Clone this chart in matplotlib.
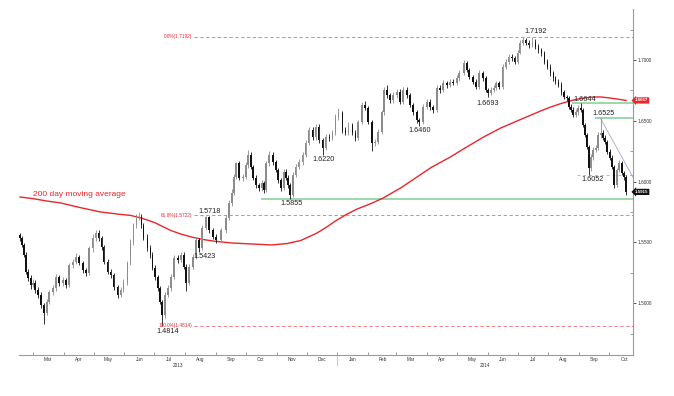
import matplotlib
matplotlib.use('Agg')
import matplotlib.pyplot as plt
import matplotlib.dates as mdates
import matplotlib.ticker as mticker
import matplotlib.transforms as mtransforms
import pandas as pd

plt.rcParams['font.family'] = ['Liberation Sans', 'DejaVu Sans']

start = pd.Timestamp('2013-03-01')

# candle days (offset from 1 Mar 2013), closes, highs, lows
day = [-13, -11, -9, -7, -5, -2, 0, 2, 5, 8,
       11, 14, 16, 20, 23, 26, 30, 33, 36, 40,
       43, 46, 50, 53, 56, 60, 63, 66, 69, 71,
       75, 78, 81, 85, 88, 91, 95, 98, 101, 104,
       107, 109, 111, 115, 118, 120, 123, 126, 128, 130,
       133, 136, 139, 142, 146, 149, 152, 154, 157, 161,
       164, 167, 170, 174, 177, 181, 184, 189, 194, 197,
       200, 202, 204, 207, 211, 214, 216, 219, 221, 224,
       227, 230, 232, 234, 237, 241, 244, 246, 249, 252,
       254, 256, 258, 261, 264, 267, 271, 274, 277, 281,
       284, 287, 291, 294, 298, 301, 304, 307, 311, 314,
       317, 321, 324, 327, 331, 334, 337, 341, 344, 347,
       351, 353, 356, 359, 362, 366, 369, 372, 376, 379,
       382, 386, 388, 392, 396, 399, 402, 406, 409, 412,
       416, 419, 422, 426, 428, 433, 436, 438, 442, 445,
       448, 452, 455, 457, 460, 463, 465, 468, 472, 475,
       478, 481, 484, 487, 489, 492, 495, 498, 502, 505,
       508, 511, 514, 517, 520, 523, 525, 528, 531, 534,
       537, 539, 541, 543, 546, 548, 551, 553, 555, 557,
       559, 561, 563, 566, 568, 571, 573, 575, 577, 580,
       582, 584, 587, 589, 592, 594, 596]

first_open = 1.5560
close = [1.5536, 1.5480, 1.5400, 1.5260, 1.5210, 1.5150, 1.5170, 1.5110, 1.5070, 1.4985,
         1.4920, 1.5010, 1.5090, 1.5125, 1.5215, 1.5166, 1.5190, 1.5150, 1.5310, 1.5340,
         1.5380, 1.5330, 1.5270, 1.5250, 1.5450, 1.5540, 1.5580, 1.5536, 1.5460, 1.5340,
         1.5260, 1.5230, 1.5130, 1.5070, 1.5110, 1.5170, 1.5330, 1.5500, 1.5640, 1.5700,
         1.5710, 1.5640, 1.5540, 1.5450, 1.5400, 1.5290, 1.5215, 1.5125, 1.5010, 1.4900,
         1.5070, 1.5125, 1.5215, 1.5370, 1.5355, 1.5400, 1.5300, 1.5170, 1.5300, 1.5380,
         1.5520, 1.5450, 1.5620, 1.5710, 1.5600, 1.5545, 1.5520, 1.5600, 1.5700, 1.5820,
         1.5910, 1.6040, 1.6150, 1.6030, 1.6040, 1.6136, 1.6220, 1.6120, 1.6030, 1.5970,
         1.5947, 1.5990, 1.5930, 1.6150, 1.6220, 1.6160, 1.6095, 1.6010, 1.5947, 1.6080,
         1.6030, 1.5970, 1.5890, 1.6054, 1.6120, 1.6160, 1.6220, 1.6317, 1.6424, 1.6367,
         1.6450, 1.6340, 1.6280, 1.6367, 1.6360, 1.6400, 1.6530, 1.6564, 1.6424, 1.6400,
         1.6465, 1.6400, 1.6360, 1.6490, 1.6630, 1.6605, 1.6490, 1.6317, 1.6326, 1.6410,
         1.6570, 1.6753, 1.6710, 1.6670, 1.6710, 1.6737, 1.6655, 1.6753, 1.6710, 1.6630,
         1.6570, 1.6507, 1.6490, 1.6613, 1.6655, 1.6613, 1.6589, 1.6770, 1.6753, 1.6810,
         1.6794, 1.6820, 1.6810, 1.6850, 1.6893, 1.6975, 1.6918, 1.6860, 1.6820, 1.6780,
         1.6893, 1.6850, 1.6753, 1.6729, 1.6753, 1.6770, 1.6810, 1.6780, 1.6944, 1.6984,
         1.7025, 1.7016, 1.6984, 1.7060, 1.7140, 1.7165, 1.7140, 1.7123, 1.7150, 1.7110,
         1.7080, 1.7057, 1.6984, 1.6944, 1.6890, 1.6850, 1.6820, 1.6794, 1.6737, 1.6696,
         1.6688, 1.6613, 1.6589, 1.6548, 1.6570, 1.6605, 1.6589, 1.6465, 1.6383, 1.6285,
         1.6112, 1.6200, 1.6260, 1.6276, 1.6383, 1.6400, 1.6360, 1.6326, 1.6243, 1.6194,
         1.6120, 1.5972, 1.6095, 1.6153, 1.6070, 1.6038, 1.5915]

high = [1.5580, 1.5555, 1.5495, 1.5420, 1.5285, 1.5235, 1.5200, 1.5190, 1.5130, 1.5090,
        1.5000, 1.5035, 1.5110, 1.5150, 1.5240, 1.5235, 1.5215, 1.5210, 1.5330, 1.5365,
        1.5410, 1.5400, 1.5350, 1.5290, 1.5470, 1.5565, 1.5605, 1.5600, 1.5555, 1.5480,
        1.5365, 1.5285, 1.5250, 1.5150, 1.5135, 1.5195, 1.5350, 1.5525, 1.5660, 1.5730,
        1.5752, 1.5735, 1.5660, 1.5565, 1.5475, 1.5420, 1.5310, 1.5235, 1.5145, 1.5030,
        1.5090, 1.5150, 1.5240, 1.5395, 1.5395, 1.5425, 1.5420, 1.5320, 1.5325, 1.5405,
        1.5545, 1.5540, 1.5645, 1.5718, 1.5715, 1.5620, 1.5565, 1.5620, 1.5725, 1.5845,
        1.5935, 1.6065, 1.6165, 1.6170, 1.6065, 1.6160, 1.6259, 1.6240, 1.6140, 1.6050,
        1.5990, 1.6010, 1.6005, 1.6170, 1.6250, 1.6240, 1.6180, 1.6115, 1.6030, 1.6100,
        1.6100, 1.6050, 1.5990, 1.6075, 1.6145, 1.6185, 1.6245, 1.6340, 1.6450, 1.6445,
        1.6475, 1.6470, 1.6360, 1.6390, 1.6395, 1.6425, 1.6555, 1.6602, 1.6580, 1.6445,
        1.6490, 1.6485, 1.6420, 1.6510, 1.6655, 1.6665, 1.6625, 1.6510, 1.6350, 1.6435,
        1.6590, 1.6775, 1.6790, 1.6730, 1.6735, 1.6760, 1.6760, 1.6780, 1.6775, 1.6730,
        1.6650, 1.6590, 1.6525, 1.6635, 1.6680, 1.6675, 1.6630, 1.6795, 1.6790, 1.6835,
        1.6830, 1.6845, 1.6840, 1.6875, 1.6915, 1.6996, 1.6990, 1.6935, 1.6880, 1.6840,
        1.6915, 1.6910, 1.6870, 1.6770, 1.6780, 1.6795, 1.6830, 1.6830, 1.6965, 1.7005,
        1.7050, 1.7045, 1.7035, 1.7085, 1.7165, 1.7185, 1.7180, 1.7160, 1.7192, 1.7170,
        1.7130, 1.7100, 1.7075, 1.7005, 1.6965, 1.6910, 1.6870, 1.6840, 1.6815, 1.6755,
        1.6715, 1.6705, 1.6635, 1.6610, 1.6595, 1.6630, 1.6644, 1.6605, 1.6480, 1.6400,
        1.6300, 1.6225, 1.6285, 1.6300, 1.6405, 1.6525, 1.6420, 1.6380, 1.6345, 1.6265,
        1.6215, 1.6135, 1.6115, 1.6180, 1.6170, 1.6090, 1.6055]

low = [1.5515, 1.5460, 1.5380, 1.5240, 1.5185, 1.5120, 1.5130, 1.5085, 1.5045, 1.4960,
       1.4832, 1.4900, 1.4990, 1.5070, 1.5100, 1.5140, 1.5145, 1.5125, 1.5130, 1.5290,
       1.5320, 1.5310, 1.5245, 1.5225, 1.5235, 1.5425, 1.5515, 1.5510, 1.5440, 1.5320,
       1.5240, 1.5205, 1.5110, 1.5045, 1.5050, 1.5090, 1.5150, 1.5310, 1.5480, 1.5615,
       1.5680, 1.5620, 1.5520, 1.5430, 1.5375, 1.5270, 1.5190, 1.5100, 1.4990, 1.4814,
       1.4880, 1.5050, 1.5100, 1.5195, 1.5330, 1.5335, 1.5280, 1.5100, 1.5150, 1.5285,
       1.5360, 1.5423, 1.5435, 1.5600, 1.5580, 1.5525, 1.5495, 1.5500, 1.5580, 1.5680,
       1.5800, 1.5890, 1.6020, 1.6010, 1.6005, 1.6020, 1.6110, 1.6100, 1.6010, 1.5950,
       1.5920, 1.5925, 1.5910, 1.5915, 1.6130, 1.6140, 1.6075, 1.5990, 1.5925, 1.5930,
       1.6010, 1.5950, 1.5855, 1.5870, 1.6035, 1.6100, 1.6140, 1.6200, 1.6300, 1.6345,
       1.6345, 1.6320, 1.6220, 1.6260, 1.6335, 1.6340, 1.6380, 1.6510, 1.6400, 1.6380,
       1.6380, 1.6380, 1.6335, 1.6340, 1.6470, 1.6585, 1.6470, 1.6252, 1.6290, 1.6305,
       1.6390, 1.6550, 1.6690, 1.6645, 1.6650, 1.6690, 1.6635, 1.6640, 1.6690, 1.6610,
       1.6550, 1.6485, 1.6460, 1.6475, 1.6595, 1.6590, 1.6565, 1.6570, 1.6730, 1.6735,
       1.6770, 1.6775, 1.6790, 1.6790, 1.6830, 1.6875, 1.6900, 1.6840, 1.6800, 1.6760,
       1.6765, 1.6830, 1.6735, 1.6693, 1.6710, 1.6735, 1.6750, 1.6760, 1.6765, 1.6925,
       1.6965, 1.6995, 1.6965, 1.6965, 1.7045, 1.7125, 1.7120, 1.7100, 1.7105, 1.7090,
       1.7060, 1.7035, 1.6965, 1.6925, 1.6870, 1.6830, 1.6800, 1.6775, 1.6715, 1.6675,
       1.6665, 1.6595, 1.6570, 1.6530, 1.6530, 1.6550, 1.6570, 1.6445, 1.6365, 1.6265,
       1.6052, 1.6090, 1.6180, 1.6240, 1.6260, 1.6360, 1.6340, 1.6305, 1.6225, 1.6175,
       1.6100, 1.5950, 1.5955, 1.6075, 1.6050, 1.6015, 1.5890]

# 200 day moving average
ma_day = [-13, 0, 14, 28, 48, 68, 88, 98, 108, 115, 123, 130, 138, 148, 159, 170,
          182, 200, 219, 240, 255, 269, 285, 295, 304, 315, 326, 340, 352, 370,
          386, 400, 419, 436, 453, 470, 487, 500, 510, 520, 530, 545, 560, 570,
          577, 586, 596]
ma_val = [1.5873, 1.5860, 1.5840, 1.5824, 1.5785, 1.5750, 1.5730, 1.5722, 1.5702,
          1.5684, 1.5660, 1.5632, 1.5600, 1.5570, 1.5545, 1.5525, 1.5510, 1.5495,
          1.5487, 1.5479, 1.5490, 1.5515, 1.5575, 1.5625, 1.5676, 1.5730, 1.5775,
          1.5820, 1.5865, 1.5950, 1.6038, 1.6115, 1.6200, 1.6285, 1.6367, 1.6440,
          1.6500, 1.6545, 1.6580, 1.6612, 1.6640, 1.6675, 1.6694, 1.6696, 1.6690,
          1.6680, 1.6667]

fib_levels = [1.7192, 1.5722, 1.4814]
fib_labels = ['0.0%(1.7192)', '61.8%(1.5722)', '100.0%(1.4814)']

level_text = ['1.4814', '1.5423', '1.5718', '1.5855', '1.6220', '1.6460',
              '1.6693', '1.7192', '1.6644', '1.6525', '1.6052']
level_day = [135, 172, 178, 260, 292, 389, 457, 505, 554, 573, 562]
level_pos = [1.4766, 1.5388, 1.5758, 1.5816, 1.6178, 1.6424,
             1.6646, 1.7230, 1.6672, 1.6556, 1.6013]

month_names = ['Mar', 'Apr', 'May', 'Jun', 'Jul', 'Aug', 'Sep', 'Oct', 'Nov', 'Dec',
               'Jan', 'Feb', 'Mar', 'Apr', 'May', 'Jun', 'Jul', 'Aug', 'Sep', 'Oct']

last_ma = 1.6667
last_price = 1.5915


def d2t(d):
    return start + pd.Timedelta(days=d)


dates = [d2t(d) for d in day]
opens = [first_open] + close[:-1]

fig = plt.figure(figsize=(6.74, 3.96), dpi=100)
ax = fig.add_axes([19 / 674, 41 / 396, 614 / 674, 346 / 396])

x_left, x_right = d2t(-14), d2t(603)
ax.set_xlim(x_left, x_right)
ax.set_ylim(1.4574, 1.7419)

# candles
for t, o, c, h, l in zip(dates, opens, close, high, low):
    col = '#8c8c8c' if c >= o else '#111111'
    ax.vlines(t, l, h, color=col, lw=0.6, zorder=3)
    ax.bar(t, max(abs(c - o), 0.0004), bottom=min(o, c), width=1.7,
           color=col, lw=0, zorder=3)

ax.plot([d2t(d) for d in ma_day], ma_val, color='#e8262b', lw=1.0, zorder=2)
ax.text(d2t(0), 1.5890, '200 day moving average', color='#e8262b',
        fontsize=6.0, va='center', ha='left')

# fibonacci levels
for lv, lab in zip(fib_levels, fib_labels):
    ax.hlines(lv, d2t(162), x_right, colors='#ec6a6a', lw=0.6,
              linestyles=(0, (4, 3)), zorder=1)
    ax.text(d2t(160), lv, lab, color='#e8262b', fontsize=3.4,
            ha='right', va='center')

# support / resistance
ax.hlines(1.5855, d2t(229), x_right, colors='#92d6a4', lw=1.3, zorder=1)
ax.hlines(1.6644, d2t(542), x_right, colors='#92d6a4', lw=1.3, zorder=1)
ax.hlines(1.6525, d2t(565), x_right, colors='#92d6a4', lw=1.3, zorder=1)
ax.hlines(1.6052, d2t(547), x_right, colors='#8fcdbd', lw=0.7,
          linestyles=(0, (3, 3)), zorder=1)
ax.plot([d2t(570), d2t(603)], [1.6525, 1.6035], color='#a4a4d2', lw=0.6, zorder=2)

for txt, d, p in zip(level_text, level_day, level_pos):
    ax.text(d2t(d), p, txt, fontsize=5.2, color='#222222', ha='center', va='center')

# right-axis value tags
tr = mtransforms.blended_transform_factory(ax.transAxes, ax.transData)
ax.text(1.003, last_ma, '%.4f' % last_ma, transform=tr, fontsize=3.2, color='white',
        ha='left', va='center', fontweight='bold',
        bbox=dict(boxstyle='larrow,pad=0.25', fc='#e8262b', ec='none'))
ax.text(1.003, last_price, '%.4f' % last_price, transform=tr, fontsize=3.2, color='white',
        ha='left', va='center', fontweight='bold',
        bbox=dict(boxstyle='larrow,pad=0.25', fc='#111111', ec='none'))

# axes styling
for s in ['left', 'top']:
    ax.spines[s].set_visible(False)
for s in ['right', 'bottom']:
    ax.spines[s].set_color('#9a9a9a')
    ax.spines[s].set_linewidth(0.8)

ax.yaxis.tick_right()
ax.set_yticks([1.50, 1.55, 1.60, 1.65, 1.70])
ax.set_yticklabels(['%.4f' % v for v in [1.50, 1.55, 1.60, 1.65, 1.70]])
ax.set_yticks([1.475, 1.525, 1.575, 1.625, 1.675, 1.725], minor=True)
ax.tick_params(axis='y', which='major', length=2, width=0.6, labelsize=3.4,
               pad=1, colors='#333333')
ax.tick_params(axis='y', which='minor', length=2, width=0.5, direction='in',
               colors='#777777')

ax.xaxis.set_major_locator(mdates.MonthLocator())
ax.xaxis.set_major_formatter(mticker.NullFormatter())
mid_months = [mdates.date2num(pd.Timestamp(2013, 3, 16) + pd.DateOffset(months=i))
              for i in range(len(month_names))]
ax.xaxis.set_minor_locator(mticker.FixedLocator(mid_months))
ax.xaxis.set_minor_formatter(mticker.FixedFormatter(month_names))
ax.tick_params(axis='x', which='major', length=2, width=0.5, direction='in',
               colors='#777777')
ax.tick_params(axis='x', which='minor', length=0, labelsize=3.4, pad=1.5,
               labelcolor='#333333')

trx = mtransforms.blended_transform_factory(ax.transData, ax.transAxes)
ax.text(d2t(146), -0.030, '2013', transform=trx, fontsize=3.4, ha='center',
        va='center', color='#333333')
ax.text(d2t(454), -0.030, '2014', transform=trx, fontsize=3.4, ha='center',
        va='center', color='#333333')
ax.plot([d2t(306), d2t(306)], [-0.004, -0.028], transform=trx, color='#cccccc',
        lw=0.8, clip_on=False)

fig.savefig('out.png', dpi=100)
